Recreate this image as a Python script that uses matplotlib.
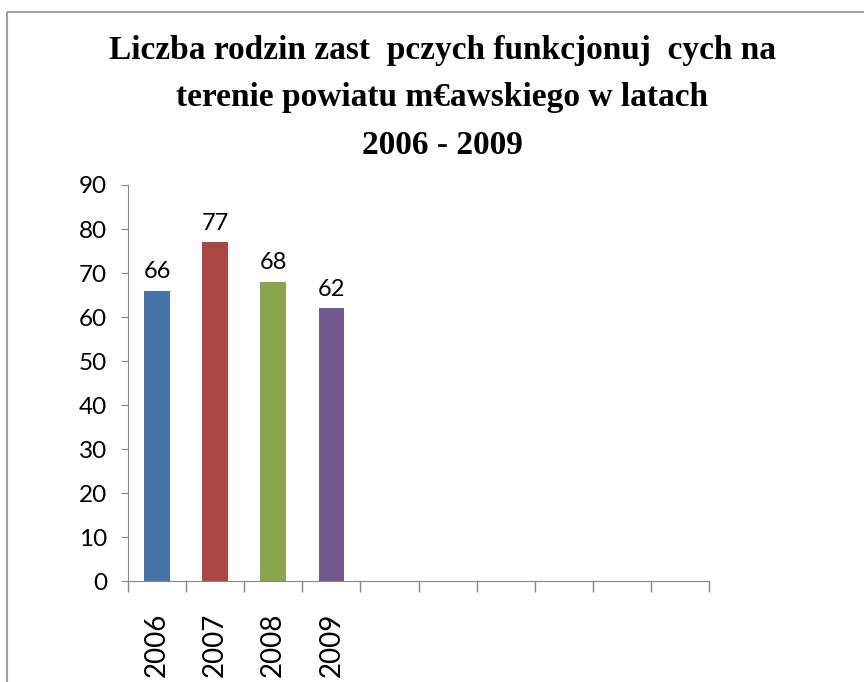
import matplotlib
matplotlib.use('Agg')
from matplotlib import pyplot as plt
import matplotlib.patches as patches
import numpy as np

# data
years = ['2006', '2007', '2008', '2009']
values = [66, 77, 68, 62]
colors = ['#4572A7', '#AA4643', '#89A54E', '#71588F']
n_slots = 10
title = ('Liczba rodzin zast  pczych funkcjonuj  cych na\n'
         'terenie powiatu m\u20acawskiego w latach\n'
         '2006 - 2009')

W, H = 864, 682
fig = plt.figure(figsize=(W / 100, H / 100), dpi=100)

# chart area border (only top/left visible in the crop)
border = patches.Rectangle((7 / W, 1 - 12 / H), 2, -2, transform=fig.transFigure,
                           fill=False, edgecolor='#a0a0a0', linewidth=1.5)
fig.patches.append(border)

ax = fig.add_axes([128 / W, (H - 581) / H, (709 - 128) / W, (581 - 185) / H])

x = np.arange(len(values)) + 0.5
ax.bar(x, values, width=0.44, color=colors)
for xi, v in zip(x, values):
    ax.annotate(str(v), (xi, v), xytext=(0, 6), textcoords='offset points',
                ha='center', va='bottom', fontsize=17, family='Lato')

ax.set_xlim(0, n_slots)
ax.set_ylim(0, 90)
ax.set_yticks(np.arange(0, 91, 10))
ax.set_xticks(x)
ax.set_xticklabels(years, rotation=90, fontsize=20, family='Lato')
ax.set_xticks(np.arange(0, n_slots + 1), minor=True)
ax.tick_params(axis='x', which='major', length=0, pad=23)
ax.tick_params(axis='x', which='minor', length=8, color='#868686', width=1)
ax.tick_params(axis='y', length=5, color='#868686', labelsize=17.5, pad=10)
for lab in ax.get_yticklabels():
    lab.set_family('Lato')

for s in ['top', 'right']:
    ax.spines[s].set_visible(False)
for s in ['left', 'bottom']:
    ax.spines[s].set_color('#868686')

fig.text(0.512, 1 - 35 / H, title, ha='center', va='top', fontsize=24,
         fontweight='bold', family='Liberation Serif', linespacing=1.68)

fig.savefig('out.png', dpi=100)
